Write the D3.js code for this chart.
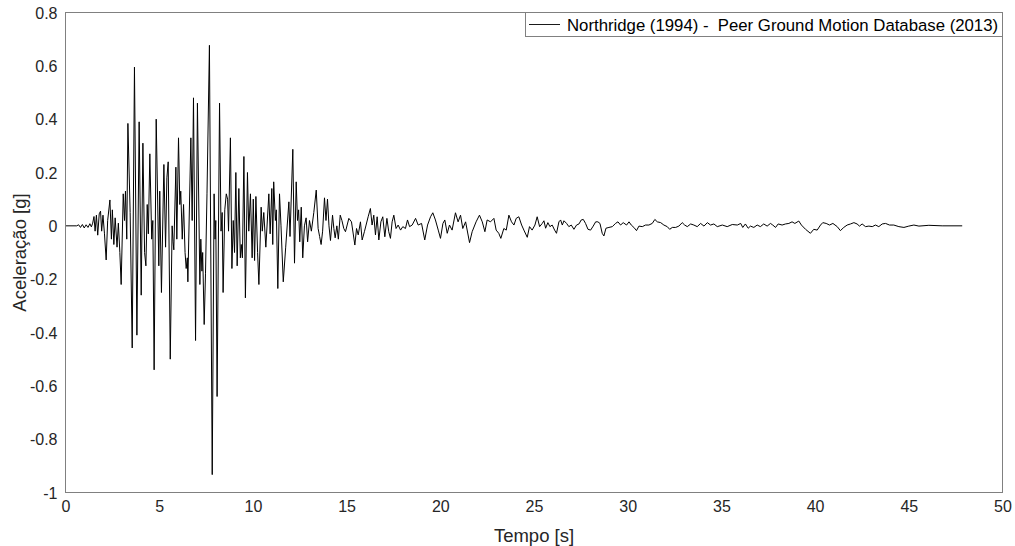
<!DOCTYPE html>
<html>
<head>
<meta charset="utf-8">
<script src="https://cdn.jsdelivr.net/npm/d3@7"></script>
<style>
  body { margin: 0; background: #fff; }
</style>
</head>
<body>
<div id="wrapper"></div>
<script>
width = 1015
height = 546

marginTop = 12.5 // top of the axes box
marginRight = 12.5
marginBottom = 53.5
marginLeft = 65.5

// Northridge (1994) accelerogram (time in s, acceleration in g)
var tempo = [
    0, 0.6, 0.7, 0.8, 0.9, 1.0, 1.1, 1.2, 1.3, 1.38, 1.45, 1.52, 1.58, 1.65, 1.72, 1.8, 1.87, 1.93, 2.0, 2.08,
    2.17, 2.25, 2.37, 2.45, 2.5, 2.58, 2.65, 2.75, 2.82, 2.9, 2.97, 3.08, 3.15, 3.2, 3.27, 3.33, 3.45, 3.56, 3.68, 3.81,
    3.93, 4.04, 4.13, 4.22, 4.29, 4.36, 4.42, 4.5, 4.6, 4.66, 4.73, 4.84, 4.98, 5.03, 5.12, 5.25, 5.34, 5.41, 5.48, 5.59,
    5.69, 5.74, 5.78, 5.89, 5.94, 6.03, 6.1, 6.15, 6.23, 6.3, 6.38, 6.44, 6.5, 6.53, 6.69, 6.76, 6.83, 6.94, 7.04, 7.17,
    7.22, 7.28, 7.32, 7.4, 7.47, 7.55, 7.68, 7.83, 7.93, 7.98, 8.02, 8.09, 8.22, 8.3, 8.36, 8.41, 8.5, 8.58, 8.65, 8.7,
    8.8, 8.88, 8.95, 9.02, 9.09, 9.16, 9.25, 9.33, 9.38, 9.44, 9.52, 9.6, 9.71, 9.78, 9.87, 9.96, 10.02, 10.09, 10.16, 10.25,
    10.32, 10.44, 10.5, 10.58, 10.69, 10.85, 10.92, 11.01, 11.06, 11.11, 11.2, 11.25, 11.33, 11.42, 11.5, 11.62, 11.75, 11.92, 11.98, 12.13,
    12.22, 12.31, 12.38, 12.44, 12.5, 12.58, 12.66, 12.75, 12.84, 12.92, 13.02, 13.12, 13.25, 13.38, 13.48, 13.56, 13.64, 13.72, 13.82, 13.9,
    13.98, 14.06, 14.14, 14.25, 14.32, 14.39, 14.48, 14.56, 14.66, 14.75, 14.85,
    14.94, 15.12, 15.26, 15.44, 15.53, 15.62, 15.74, 15.83, 15.95, 16.04, 16.15, 16.27, 16.36, 16.45, 16.54, 16.63, 16.72, 16.83, 16.93, 17.04,
    17.15, 17.25, 17.34, 17.43, 17.52, 17.64, 17.75, 17.88, 18.0, 18.14, 18.25, 18.36, 18.5, 18.68, 18.82, 19.0, 19.17, 19.32, 19.48, 19.6,
    19.74, 19.89, 20.01, 20.14, 20.24, 20.37, 20.49, 20.63, 20.81, 20.95, 21.08, 21.2, 21.35, 21.56, 21.7, 21.91, 22.09, 22.24, 22.38, 22.5,
    22.68, 22.86, 22.98, 23.12, 23.23, 23.39, 23.52, 23.66, 23.8, 23.93, 24.05, 24.19, 24.34, 24.46, 24.64, 24.76, 24.9, 25.05, 25.17, 25.3,
    25.44, 25.53, 25.62, 25.74, 25.85, 25.97, 26.1, 26.2, 26.33, 26.42, 26.51, 26.6, 26.74, 26.86, 26.99, 27.13, 27.27, 27.4, 27.52, 27.63,
    27.75, 27.88, 28.02, 28.16, 28.29, 28.41, 28.52, 28.64, 28.73, 28.84, 29.0, 29.18, 29.35, 29.48, 29.62, 29.76, 29.94, 30.07, 30.19, 30.33,
    30.47, 30.6, 30.78, 30.95, 31.13, 31.31, 31.45, 31.58, 31.76, 31.93, 32.11, 32.24, 32.38, 32.56, 32.73, 32.91, 33.04, 33.18, 33.36, 33.53,
    33.71, 33.89, 34.07, 34.25, 34.42, 34.6, 34.78, 35.05, 35.31, 35.58, 35.85, 36.03,
    36.14, 36.28, 36.43, 36.55, 36.73, 36.91, 37.08, 37.26, 37.44, 37.62, 37.74, 37.89, 38.03, 38.24, 38.42, 38.6, 38.77, 38.92, 39.13, 39.27,
    39.49, 39.75, 39.93, 40.11, 40.29, 40.41, 40.59, 40.77, 40.95, 41.18, 41.35, 41.53, 41.71, 41.89, 42.07, 42.24, 42.37, 42.51, 42.69, 42.87,
    43.05, 43.22, 43.4, 43.58, 43.76, 43.97, 44.2, 44.47, 44.74, 45.0, 45.27, 45.54, 46.07, 46.78, 47.85
]
var aceleracao = [
    0, 0, 0.004, -0.006, 0.005, -0.008, 0.004, -0.006, 0.008, -0.004, 0.01, 0.035, -0.02, 0.04, -0.035, 0.045, 0.055, -0.02, 0.04, -0.03,
    -0.128, 0.02, 0.097, -0.05, 0.06, -0.07, 0.03, -0.08, 0.01, -0.1, -0.22, 0.12, 0.02, 0.13, -0.05, 0.384, 0.05, -0.458, 0.595, -0.41,
    0.39, -0.26, 0.31, -0.1, -0.15, 0.08, -0.03, 0.27, -0.05, 0.02, -0.54, 0.4, -0.15, 0.13, -0.25, 0.23, -0.08, 0.18, 0.24, -0.5,
    0, -0.06, -0.09, 0.22, -0.05, 0.33, 0.08, 0.13, -0.05, 0.08, -0.1, -0.16, -0.12, -0.21, 0.33, 0.02, 0.48, -0.43, 0.46, -0.22,
    -0.05, -0.17, -0.1, -0.37, -0.18, 0.12, 0.677, -0.933, 0.12, -0.05, 0.02, -0.64, 0.46, -0.02, 0.05, -0.25, 0.06, 0.12, 0.1, -0.02,
    0.33, -0.16, 0.02, -0.1, 0.2, -0.15, 0.14, -0.12, -0.07, -0.12, 0.26, -0.27, 0.2, -0.02, 0.12, -0.12, 0.1, -0.13, 0.11, -0.1,
    -0.22, 0.07, -0.02, 0.05, -0.08, 0.12, -0.03, 0.14, -0.07, 0.165, 0.02, 0.06, -0.235, 0.12, 0, -0.21, -0.08, 0.09, -0.04, 0.287,
    -0.14, 0.165, 0.02, 0.06, -0.06, 0.07, -0.12, 0, 0.03, -0.06, 0.02, -0.02, 0.05, 0.134, -0.01, -0.04, -0.07, -0.02, 0.105, 0.02,
    0.1, 0, -0.055, 0.04, -0.01, -0.045, 0, -0.05, 0.04, 0.02, -0.01,
    -0.022, 0.028, 0.015, -0.072, -0.01, -0.034, 0.015, -0.053, -0.022, 0.003, 0.034, 0.065, 0.003, 0.04, -0.034, 0.034, -0.053, 0.015, 0.034, -0.041,
    0.028, -0.022, -0.047, 0.015, 0.04, -0.01, 0.003, -0.016, -0.003, -0.01, 0.022, -0.003, 0.003, 0.028, 0.003, 0.009, -0.053, 0.003, 0.034, 0.049,
    0.022, -0.016, -0.047, 0.009, 0.022, -0.028, 0.003, -0.016, 0.049, 0.015, 0.04, -0.01, 0.015, -0.063, -0.022, 0.015, 0.04, 0.015, -0.022, 0.022,
    0.015, 0.028, -0.016, -0.028, -0.047, -0.01, -0.016, 0.04, 0.015, 0.003, 0.028, 0.034, 0.003, -0.016, -0.043, -0.003, -0.016, 0.003, 0.034, -0.003,
    0.009, 0.019, -0.009, 0.012, -0.003, 0.003, -0.016, -0.028, 0.015, 0.022, 0.003, 0.019, 0.009, -0.003, 0.003, -0.013, 0.003, 0.007, 0.022, 0.024,
    0.009, -0.013, -0.016, -0.001, 0.015, 0.015, 0.009, -0.028, -0.038, -0.009, -0.006, -0.003, 0.009, 0.015, 0.003, 0.012, 0.003, 0.015, 0.003, -0.006,
    -0.018, -0.001, -0.003, 0.003, 0.003, 0.009, 0.024, 0.015, 0.012, 0.003, -0.003, -0.013, -0.006, -0.006, -0.001, 0.012, 0.003, -0.003, 0.007, 0.003,
    -0.003, 0.009, -0.001, 0.012, 0.003, 0.007, -0.003, 0.003, -0.003, 0.005, 0.003, 0.009,
    -0.006, 0.007, -0.009, -0.001, -0.006, 0.003, -0.003, 0.007, -0.001, 0.009, 0.003, -0.006, 0.007, 0.003, 0.007, 0.009, 0.015, 0.009, 0.018, 0.003,
    -0.013, -0.028, -0.013, -0.016, 0.003, 0.012, 0.009, 0.003, 0.009, -0.003, -0.018, -0.006, 0.003, 0.007, 0.012, 0.007, -0.001, 0.007, -0.003, -0.001,
    -0.003, 0.003, -0.003, 0.007, 0.009, 0.003, 0.003, -0.003, -0.006, -0.001, 0.003, -0.001, 0.002, 0, 0
]

var xTicks = [0, 5, 10, 15, 20, 25, 30, 35, 40, 45, 50]
var yTicks = [-1, -0.8, -0.6, -0.4, -0.2, 0, 0.2, 0.4, 0.6, 0.8]
var xLabel = "Tempo [s]"
var yLabel = "Aceleração [g]"
var legendLabel = "Northridge (1994) -  Peer Ground Motion Database (2013)"

var fontFamily = "'Liberation Sans', Arial, Helvetica, sans-serif"
var boxColor = "#808080"
var textColor = "#262626"

const svg = d3.select("#wrapper").append("svg")
    .attr("width", width)
    .attr("height", height)
    .style("font-family", fontFamily)

var data = tempo.map((t, i) => ({ t: t, a: aceleracao[i] }))

var x = d3.scaleLinear()
    .domain([0, 50])
    .range([marginLeft, width - marginRight])

var y = d3.scaleLinear()
    .domain([-1, 0.8])
    .range([height - marginBottom, marginTop])

var line = d3.line()
    .x(d => x(d.t))
    .y(d => y(d.a))

svg.append("path")
    .datum(data)
    .attr("fill", "none")
    .attr("stroke", "#000")
    .attr("stroke-width", 1)
    .attr("stroke-linejoin", "round")
    .attr("d", line)

// axes box
svg.append("rect")
    .attr("x", marginLeft)
    .attr("y", marginTop)
    .attr("width", x(50) - x(0))
    .attr("height", y(-1) - y(0.8))
    .attr("fill", "none")
    .attr("stroke", boxColor)
    .attr("stroke-width", 1)

var fmt = d => d === 0 ? "0" : String(+d.toFixed(1))

svg.append("g")
    .attr("transform", `translate(0, ${height - marginBottom})`)
    .call(d3.axisBottom(x).tickValues(xTicks).tickFormat(fmt).tickSize(0).tickPadding(8))
    .call(g => g.select(".domain").remove())
    .call(g => g.selectAll("text")
        .attr("fill", textColor)
        .style("font-size", "16px")
        .style("font-family", fontFamily))

svg.append("g")
    .attr("transform", `translate(${marginLeft}, 0)`)
    .call(d3.axisLeft(y).tickValues(yTicks).tickFormat(fmt).tickSize(0).tickPadding(8))
    .call(g => g.select(".domain").remove())
    .call(g => g.selectAll("text")
        .attr("fill", textColor)
        .attr("dy", "0.36em")
        .style("font-size", "16px")
        .style("font-family", fontFamily))

svg.append("text")
    .attr("x", (x(0) + x(50)) / 2)
    .attr("y", 542)
    .attr("text-anchor", "middle")
    .attr("fill", textColor)
    .style("font-size", "18.5px")
    .text(xLabel)

svg.append("text")
    .attr("transform", `translate(26, ${(y(-1) + y(0.8)) / 2}) rotate(-90)`)
    .attr("text-anchor", "middle")
    .attr("fill", textColor)
    .style("font-size", "18.5px")
    .text(yLabel)

// legend
const legend = svg.append("g")

legend.append("rect")
    .attr("x", 525.5)
    .attr("y", marginTop)
    .attr("width", x(50) - 525.5)
    .attr("height", 24)
    .attr("fill", "#fff")
    .attr("stroke", boxColor)

legend.append("line")
    .attr("x1", 529)
    .attr("x2", 560)
    .attr("y1", 24.5)
    .attr("y2", 24.5)
    .attr("stroke", "#000")
    .attr("stroke-width", 0.9)

var legendText = legend.append("text")
    .attr("x", 567)
    .attr("y", 30.5)
    .attr("fill", "#000")
    .style("font-size", "16px")
    .style("white-space", "pre")
    .text(legendLabel)

// fit the legend text to the width it takes in the picture
var w = legendText.node().getComputedTextLength()
legendText.style("font-size", (16 * 431 / w).toFixed(2) + "px")
</script>
</body>
</html>
